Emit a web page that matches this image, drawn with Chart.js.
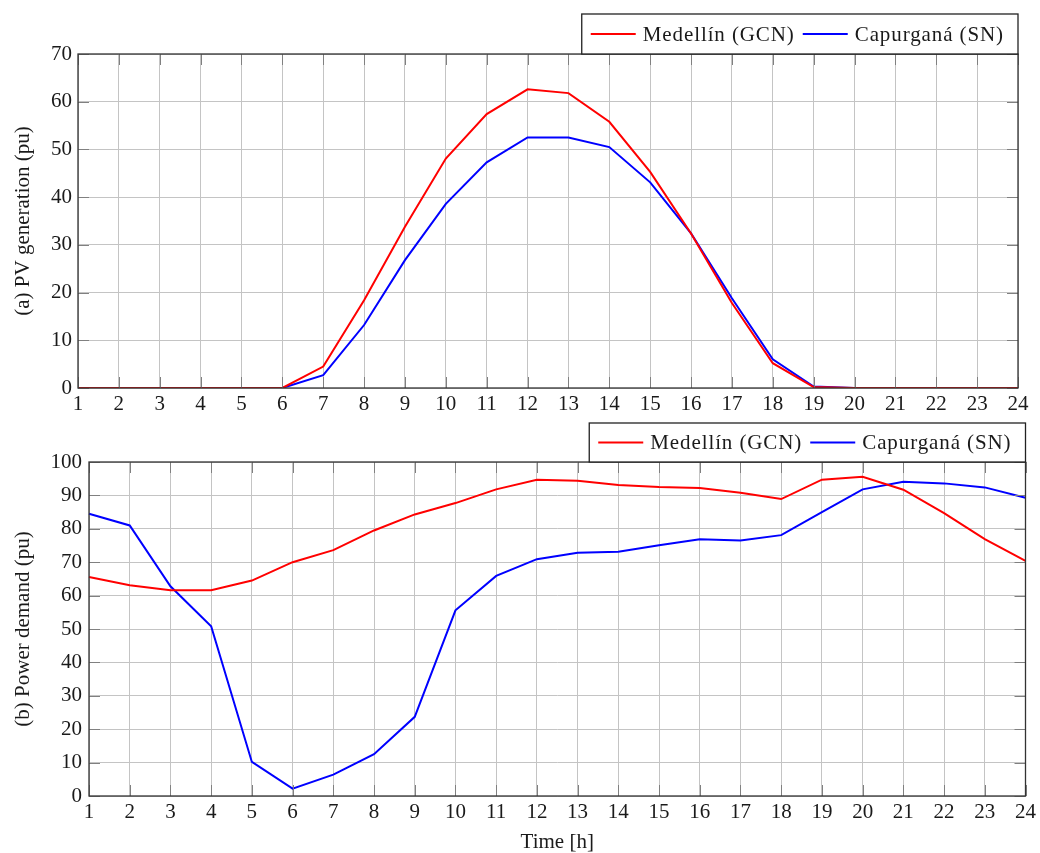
<!DOCTYPE html>
<html>
<head>
<meta charset="utf-8">
<script src="https://cdn.jsdelivr.net/npm/chart.js@4/dist/chart.umd.min.js"></script>
<style>
  html, body { margin: 0; padding: 0; background: #fff; }
  #wrap { position: relative; width: 1040px; height: 853px; }
  #pv { position: absolute; left: 0; top: 0; }
  #demand { position: absolute; left: 0; top: 415px; }
</style>
</head>
<body>
<div id="wrap">
  <canvas id="pv" width="1040" height="415"></canvas>
  <canvas id="demand" width="1040" height="438"></canvas>
</div>
<script>
// hours of the day
const hours = ['1','2','3','4','5','6','7','8','9','10','11','12','13','14','15','16','17','18','19','20','21','22','23','24'];

// (a) PV generation (pu)
const pvMedellin = [0, 0, 0, 0, 0, 0, 4.5, 18.4, 33.8, 48.1, 57.4, 62.6, 61.8, 55.8, 45.3, 32.4, 17.8, 5.2, 0.2, 0, 0, 0, 0, 0];
const pvCapurgana = [0, 0, 0, 0, 0, 0, 2.7, 13.2, 26.8, 38.6, 47.3, 52.5, 52.5, 50.5, 43.1, 32.4, 18.8, 6.0, 0.3, 0, 0, 0, 0, 0];

// (b) Power demand (pu)
const demMedellin = [65.6, 63.1, 61.6, 61.6, 64.5, 70.0, 73.6, 79.5, 84.3, 87.7, 91.8, 94.7, 94.4, 93.1, 92.5, 92.2, 90.8, 88.9, 94.7, 95.6, 91.7, 84.7, 76.9, 70.4];
const demCapurgana = [84.5, 81.0, 62.8, 50.8, 10.2, 2.2, 6.4, 12.5, 23.7, 55.6, 65.9, 70.9, 72.8, 73.1, 75.1, 76.9, 76.5, 78.1, 85.0, 91.8, 94.1, 93.6, 92.4, 89.3];

const seriesNames = ['Medellín (GCN)', 'Capurganá (SN)'];
const FONT = '"Liberation Serif", "DejaVu Serif", serif';
const TXT = '#1a1a1a';

// pgfplots-like inward tick marks
const innerTicks = {
  id: 'innerTicks',
  afterDatasetsDraw(chart) {
    const {ctx, chartArea: a, scales: {x, y}} = chart;
    ctx.save();
    ctx.strokeStyle = '#808080';
    ctx.lineWidth = 1;
    ctx.beginPath();
    x.ticks.forEach((t, i) => {
      const px = Math.round(x.getPixelForTick(i)) + 0.5;
      ctx.moveTo(px, a.bottom); ctx.lineTo(px, a.bottom - 11);
      ctx.moveTo(px, a.top); ctx.lineTo(px, a.top + 11);
    });
    y.ticks.forEach((t, i) => {
      const py = Math.round(y.getPixelForTick(i)) + 0.5;
      ctx.moveTo(a.left, py); ctx.lineTo(a.left + 11, py);
      ctx.moveTo(a.right, py); ctx.lineTo(a.right - 11, py);
    });
    ctx.stroke();
    ctx.strokeStyle = '#333';
    ctx.lineWidth = 1.3;
    ctx.strokeRect(a.left, a.top, a.right - a.left, a.bottom - a.top);
    ctx.restore();
  }
};

// boxed legend sitting on top of the plot, right aligned
const boxLegend = {
  id: 'boxLegend',
  afterDraw(chart, args, opts) {
    const {ctx, chartArea: a} = chart;
    ctx.save();
    ctx.font = '21px ' + FONT;
    ctx.letterSpacing = '0.9px';
    const sample = 45, gap = 7, sep = 8, padL = 9, padR = 14;
    let w = padL + padR;
    chart.data.datasets.forEach((ds, i) => {
      w += sample + gap + ctx.measureText(ds.label).width + (i > 0 ? sep : 0);
    });
    const h = opts.height;
    const x0 = a.right - w, y0 = a.top - h;
    ctx.fillStyle = '#fff';
    ctx.fillRect(x0, y0, w, h);
    ctx.strokeStyle = '#222';
    ctx.lineWidth = 1.3;
    ctx.strokeRect(x0, y0, w, h);
    let cx = x0 + padL;
    const cy = y0 + h / 2;
    ctx.textBaseline = 'middle';
    chart.data.datasets.forEach((ds, i) => {
      if (i > 0) cx += sep;
      ctx.strokeStyle = ds.borderColor;
      ctx.lineWidth = 2;
      ctx.beginPath();
      ctx.moveTo(cx, cy); ctx.lineTo(cx + sample, cy);
      ctx.stroke();
      cx += sample + gap;
      ctx.fillStyle = TXT;
      ctx.fillText(ds.label, cx, cy + 1);
      cx += ctx.measureText(ds.label).width;
    });
    ctx.restore();
  }
};

function makeChart(id, dataA, dataB, yMax, yStep, yTitle, o) {
  return new Chart(document.getElementById(id), {
    type: 'line',
    data: {
      labels: hours,
      datasets: [
        { label: seriesNames[0], data: dataA, borderColor: '#ff0000', borderWidth: 2, pointRadius: 0, tension: 0, fill: false },
        { label: seriesNames[1], data: dataB, borderColor: '#0000ff', borderWidth: 2, pointRadius: 0, tension: 0, fill: false }
      ]
    },
    options: {
      responsive: false,
      animation: false,
      devicePixelRatio: 1,
      layout: { padding: { top: o.top, right: o.right, bottom: 0, left: 0 } },
      plugins: {
        legend: { display: false },
        tooltip: { enabled: false },
        boxLegend: { height: o.legendH }
      },
      scales: {
        x: {
          offset: false,
          grid: { color: '#c4c4c4', lineWidth: 1, drawTicks: false },
          border: { display: false },
          ticks: { color: TXT, font: { family: FONT, size: 21 }, padding: 4, maxRotation: 0, autoSkip: false },
          title: o.xTitle ? { display: true, text: o.xTitle, color: TXT, font: { family: FONT, size: 21, lineHeight: 1 }, padding: { top: 0, bottom: 0 } } : { display: false },
          afterFit: s => { s.height = o.xH; }
        },
        y: {
          min: 0, max: yMax,
          grid: { color: '#c4c4c4', lineWidth: 1, drawTicks: false },
          border: { display: false },
          ticks: { stepSize: yStep, color: TXT, font: { family: FONT, size: 21 }, padding: o.yPad },
          title: { display: true, text: yTitle, color: TXT, font: { family: FONT, size: 21, lineHeight: 1 }, padding: { top: 12.5, bottom: 0 } },
          afterFit: s => { s.width = o.left; }
        }
      }
    },
    plugins: [innerTicks, boxLegend]
  });
}

makeChart('pv', pvMedellin, pvCapurgana, 70, 10, '(a) PV generation (pu)',
  { top: 54, right: 22, left: 78, xH: 27, yPad: 6, legendH: 40, xTitle: null });
makeChart('demand', demMedellin, demCapurgana, 100, 10, '(b) Power demand (pu)',
  { top: 47, right: 12, left: 89, xH: 57, yPad: 7, legendH: 39, xTitle: 'Time [h]' });
</script>
</body>
</html>
